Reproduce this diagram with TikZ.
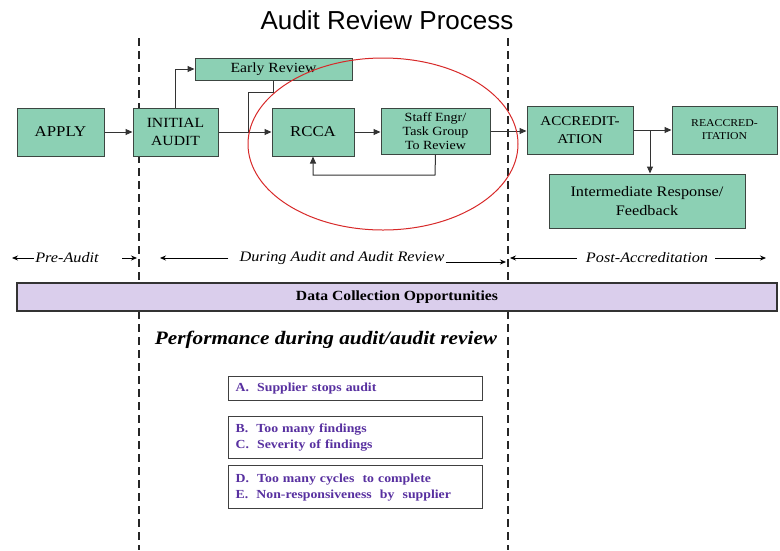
\documentclass[tikz,border=0pt]{standalone}
\usepackage{fontspec}
\setmainfont[FakeStretch=1.12]{Liberation Serif}
\newfontfamily\titlefont{Liberation Sans}
\usetikzlibrary{arrows.meta}
\definecolor{boxgreen}{RGB}{140,208,180}
\definecolor{boxedge}{RGB}{60,70,65}
\definecolor{lav}{RGB}{218,206,236}
\definecolor{purp}{RGB}{88,48,160}
\definecolor{ellred}{RGB}{215,40,40}
\tikzset{
  gbox/.style={draw=boxedge, fill=boxgreen, line width=1pt, align=center, inner sep=1pt, font=\fontsize{14}{18}\selectfont},
  conn/.style={draw=black!80, line width=1pt},
  arr/.style={conn, -{Triangle[length=7pt,width=6pt]}},
  thinarr/.style={draw=black, line width=0.8pt, -{Stealth[length=6pt,width=5pt]}},
  dline/.style={draw=black!85, line width=2.4pt, dash pattern=on 8pt off 5pt},
  lbl/.style={font=\fontsize{14.5}{16}\selectfont\itshape, inner sep=1pt},
  pbox/.style={draw=black!75, line width=1.2pt, fill=white, anchor=north west, minimum width=254pt, text width=240pt, align=left, inner xsep=7pt, inner ysep=2pt, font=\fontsize{12.3}{16}\selectfont\bfseries, text=purp}
}
\begin{document}
\begin{tikzpicture}[x=1pt,y=-1pt]
\useasboundingbox (0,0) rectangle (780,550);
% title
\node[font=\titlefont\fontsize{26}{28}\selectfont] (title) at (387,20) {Audit Review Process};
% dashed phase lines
\coordinate (d1t) at (139,38); \coordinate (d1b) at (139,550);
\coordinate (d2t) at (508,38); \coordinate (d2b) at (508,550);
\draw[dline] (d1t) -- (d1b);
\draw[dline] (d2t) -- (d2b);
% process boxes
\node[gbox, minimum width=87pt, minimum height=48pt, font=\fontsize{15}{18}\selectfont] (apply) at (60.5,132) {APPLY};
\node[gbox, minimum width=85pt, minimum height=48pt] (initial) at (175.5,132) {INITIAL\\AUDIT};
\node[gbox, minimum width=157pt, minimum height=22pt] (early) at (273.5,69) {Early Review};
\node[gbox, minimum width=82pt, minimum height=48pt, font=\fontsize{15}{18}\selectfont] (rcca) at (313,132) {RCCA};
\node[gbox, minimum width=109pt, minimum height=46pt, font=\fontsize{12.5}{14}\selectfont] (staff) at (435.5,131) {Staff Engr/\\Task Group\\To Review};
\node[gbox, minimum width=106pt, minimum height=48pt, font=\fontsize{13.5}{18}\selectfont] (accr) at (580,130) {ACCREDIT-\\ATION};
\node[gbox, minimum width=105pt, minimum height=48pt, font=\fontsize{10.5}{13}\selectfont] (reacc) at (724.5,130) {REACCRED-\\ITATION};
\node[gbox, minimum width=196pt, minimum height=54pt, font=\fontsize{14.5}{19}\selectfont] (inter) at (647,201) {Intermediate Response/\\Feedback};
% connectors
\draw[arr] (apply) -- (initial);
\draw[arr] (initial) -- (rcca);
\draw[arr] (initial.north) |- (early.west);
\coordinate (j1) at (248,132);
\draw[conn] (early.south) -- ++(0,12) -| (j1);
\draw[arr] (rcca) -- (staff.west |- rcca);
\coordinate (lp) at (435,175);
\draw[arr] (staff.south) -- (lp) -| (rcca.south);
\draw[arr] (staff.east) -- (accr.west |- staff.east);
\draw[arr] (accr) -- (reacc);
\coordinate (br) at (650,130);
\draw[arr] (br) -- (br |- inter.north);
% red ellipse
\draw[ellred, line width=1pt] (383,144) ellipse [x radius=135, y radius=86];
% phase labels
\node[lbl] (pre) at (67,258) {Pre-Audit};
\coordinate (pa1) at (12,258); \coordinate (pa2) at (122,258); \coordinate (pa3) at (137,258);
\draw[thinarr] (pre.west) -- (pa1);
\draw[thinarr] (pa2) -- (pa3);
\node[lbl] (during) at (342,258) {During Audit and Audit Review};
\coordinate (du1) at (160,258); \coordinate (du2) at (506,262);
\draw[thinarr] ([xshift=-10pt]during.west) -- (du1);
\draw[thinarr] (during.east |- du2) -- (du2);
\node[lbl] (post) at (647,258) {Post-Accreditation};
\coordinate (po1) at (510,258); \coordinate (po2) at (766,258);
\draw[thinarr] ([xshift=-8pt]post.west) -- (po1);
\draw[thinarr] ([xshift=6pt]post.east) -- (po2);
% data collection bar
\node[draw=black!80, line width=1.2pt, fill=lav, minimum width=760pt, minimum height=28pt, font=\fontsize{14}{15}\selectfont\bfseries] (dc) at (397,297) {Data Collection Opportunities};
% performance
\node[font=\fontsize{19}{22}\selectfont\bfseries\itshape] (perf) at (326,340) {Performance during audit/audit review};
\node[pbox, minimum height=24pt] (pa) at (228,376) {A.\ \ Supplier stops audit};
\node[pbox, minimum height=42pt] (pb) at (228,416) {B.\ \ Too many findings\\C.\ \ Severity of findings};
\node[pbox, minimum height=43pt] (pd) at (228,465) {D.\ \ Too many cycles \ to complete\\E.\ \ Non-responsiveness \ by \ supplier};
\end{tikzpicture}
\end{document}
